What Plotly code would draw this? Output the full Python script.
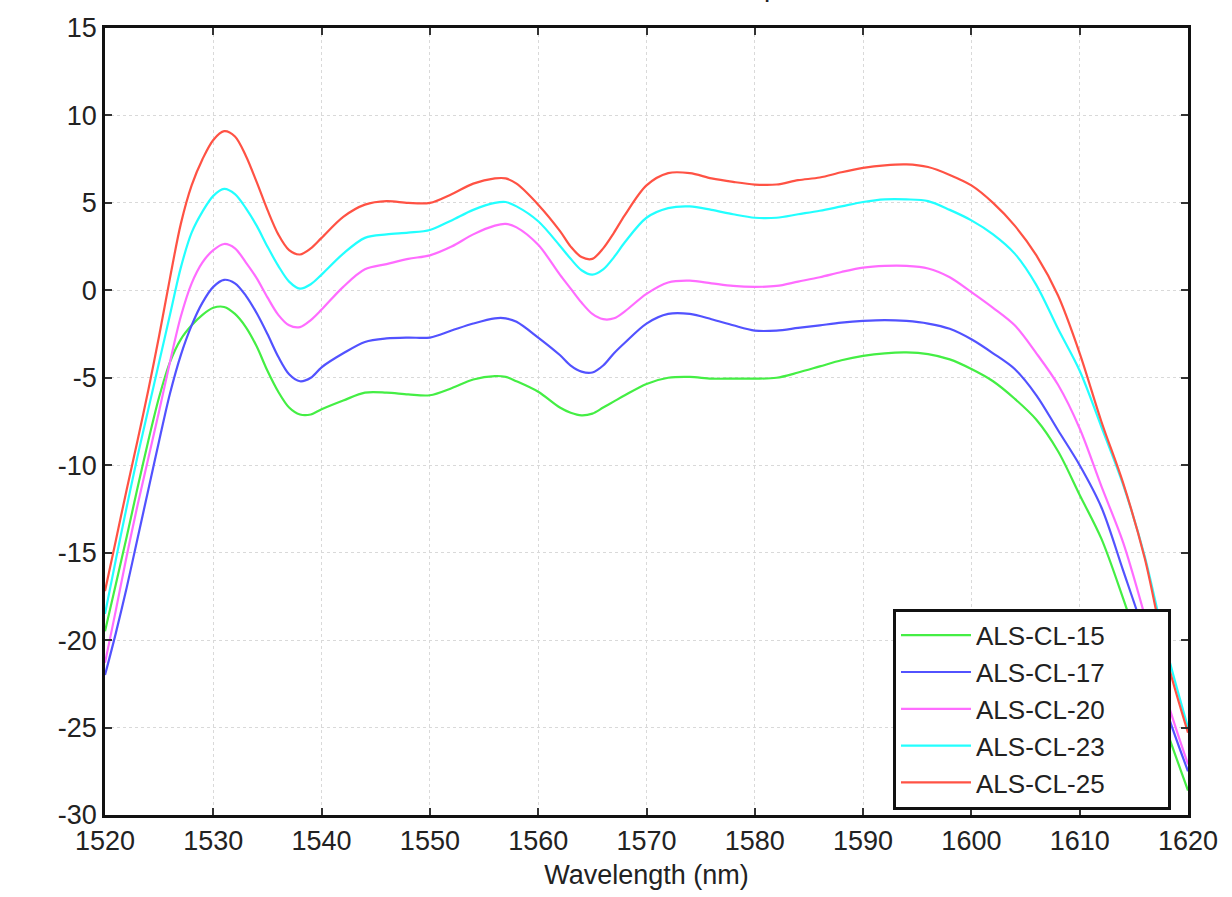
import plotly.graph_objects as go

wavelength = [1520, 1521, 1522, 1523, 1524, 1525, 1526, 1527, 1528, 1529, 1530,
              1531, 1532, 1533, 1534, 1535, 1536, 1537, 1538, 1539, 1540, 1542,
              1544, 1546, 1548, 1550, 1552, 1554, 1556, 1557, 1558, 1560, 1562,
              1563, 1564, 1565, 1566, 1567, 1568, 1570, 1572, 1574, 1576, 1578,
              1580, 1582, 1584, 1586, 1588, 1590, 1592, 1594, 1596, 1598, 1600,
              1602, 1604, 1606, 1608, 1610, 1612, 1614, 1616, 1618, 1620]

als_cl_15 = [-19.5, -16.8, -14.1, -11.3, -8.6, -6.1, -4.1, -2.8, -2.0, -1.4, -1.0,
             -0.95, -1.35, -2.1, -3.2, -4.6, -5.8, -6.7, -7.1, -7.1, -6.8, -6.3,
             -5.85, -5.85, -5.95, -6.0, -5.6, -5.1, -4.9, -4.95, -5.2, -5.8, -6.7,
             -7.0, -7.15, -7.05, -6.7, -6.35, -6.0, -5.35, -5.0, -4.95, -5.05, -5.05,
             -5.05, -5.0, -4.7, -4.35, -4.0, -3.75, -3.6, -3.55, -3.65, -3.95, -4.5,
             -5.2, -6.2, -7.4, -9.2, -11.7, -14.2, -17.6, -21.3, -25.1, -28.6]

als_cl_17 = [-22.0, -19.6, -17.0, -14.2, -11.4, -8.6, -5.9, -3.7, -2.0, -0.7, 0.2,
             0.6, 0.4, -0.3, -1.3, -2.5, -3.8, -4.8, -5.2, -5.0, -4.4, -3.6,
             -2.95, -2.75, -2.7, -2.7, -2.3, -1.9, -1.6, -1.6, -1.8, -2.7, -3.7,
             -4.3, -4.65, -4.7, -4.3, -3.6, -3.0, -1.9, -1.35, -1.35, -1.65, -2.0,
             -2.3, -2.3, -2.15, -2.0, -1.85, -1.75, -1.7, -1.75, -1.9, -2.2, -2.8,
             -3.6, -4.5, -6.0, -8.0, -10.0, -12.4, -16.0, -19.7, -24.0, -27.5]

als_cl_20 = [-21.3, -18.3, -15.2, -12.3, -9.6, -6.9, -4.1, -1.5, 0.4, 1.6, 2.3,
             2.65, 2.4, 1.6, 0.7, -0.4, -1.4, -2.0, -2.1, -1.7, -1.1, 0.2,
             1.2, 1.5, 1.8, 2.0, 2.5, 3.2, 3.7, 3.8, 3.6, 2.6, 0.9,
             0.1, -0.7, -1.35, -1.65, -1.6, -1.2, -0.2, 0.45, 0.55, 0.4, 0.25,
             0.2, 0.25, 0.5, 0.75, 1.05, 1.3, 1.4, 1.4, 1.25, 0.75, -0.1,
             -1.0, -2.0, -3.6, -5.4, -7.9, -11.2, -14.4, -18.6, -23.3, -27.1]

als_cl_23 = [-18.5, -15.4, -12.4, -9.5, -6.8, -4.1, -1.4, 1.3, 3.3, 4.5, 5.4,
             5.8, 5.5, 4.7, 3.7, 2.5, 1.4, 0.5, 0.1, 0.35, 0.9, 2.1,
             3.0, 3.2, 3.3, 3.45, 4.0, 4.6, 5.0, 5.05, 4.8, 3.95, 2.55,
             1.8, 1.15, 0.9, 1.2, 1.9, 2.75, 4.15, 4.7, 4.8, 4.6, 4.35,
             4.15, 4.15, 4.35, 4.55, 4.8, 5.05, 5.2, 5.2, 5.1, 4.6, 4.0,
             3.2, 2.1, 0.3, -2.2, -4.6, -7.8, -11.1, -15.2, -20.5, -25.0]

als_cl_25 = [-17.2, -14.3, -11.4, -8.6, -5.7, -2.6, 0.7, 3.8, 6.0, 7.5, 8.6,
             9.1, 8.8, 7.7, 6.2, 4.6, 3.2, 2.3, 2.05, 2.4, 3.0, 4.2,
             4.9, 5.1, 5.0, 5.0, 5.5, 6.1, 6.4, 6.4, 6.1, 4.9, 3.4,
             2.5, 1.9, 1.8, 2.4, 3.3, 4.3, 6.0, 6.7, 6.7, 6.4, 6.2,
             6.05, 6.05, 6.3, 6.45, 6.75, 7.0, 7.15, 7.2, 7.05, 6.6, 6.0,
             5.0, 3.7, 2.0, -0.3, -3.6, -7.5, -11.0, -15.3, -21.0, -25.3]

series_names = ["ALS-CL-15", "ALS-CL-17", "ALS-CL-20", "ALS-CL-23", "ALS-CL-25"]
series_values = [als_cl_15, als_cl_17, als_cl_20, als_cl_23, als_cl_25]
series_colors = ["#44ee44", "#5252ff", "#ff6cff", "#22ffff", "#ff5244"]

x_tick_vals = [1520, 1530, 1540, 1550, 1560, 1570, 1580, 1590, 1600, 1610, 1620]
x_tick_text = ["1520", "1530", "1540", "1550", "1560", "1570", "1580", "1590", "1600", "1610", "1620"]
y_tick_vals = [-30, -25, -20, -15, -10, -5, 0, 5, 10, 15]
y_tick_text = ["-30", "-25", "-20", "-15", "-10", "-5", "0", "5", "10", "15"]

title_text = "ALS-CL Series ASE Power Spectra"
x_title = "Wavelength (nm)"

FONT = "Liberation Sans, Arial, Helvetica, sans-serif"
LEGEND_PAD = "\u00a0" * 8

fig = go.Figure()
for name, vals, col in zip(series_names, series_values, series_colors):
    fig.add_trace(go.Scatter(
        x=wavelength, y=vals, mode="lines", name=name + LEGEND_PAD,
        line=dict(color=col, width=2.2, shape="spline", smoothing=0.9),
    ))

axis_common = dict(
    showline=True, linecolor="#111111", linewidth=2.5, mirror="allticks",
    ticks="inside", ticklen=7, tickwidth=2, tickcolor="#333333",
    showgrid=True, gridcolor="#d9d9d9", gridwidth=1, griddash="dot",
    zeroline=False,
    tickfont=dict(family=FONT, size=27, color="#222222"),
)

fig.update_layout(
    width=1232, height=897,
    paper_bgcolor="white", plot_bgcolor="white",
    margin=dict(l=105, r=44, t=28, b=79, pad=0),
    xaxis=dict(range=[1520, 1620], tickvals=x_tick_vals, ticktext=x_tick_text,
               title=dict(text=x_title, font=dict(family=FONT, size=27, color="#222222"), standoff=10),
               **axis_common),
    yaxis=dict(range=[-30, 15], tickvals=y_tick_vals, ticktext=y_tick_text,
               **axis_common),
    legend=dict(
        x=0.7276, y=0.262, xanchor="left", yanchor="top",
        bgcolor="white", bordercolor="#111111", borderwidth=3,
        font=dict(family=FONT, size=26, color="#222222"),
        itemwidth=70, tracegroupgap=0,
    ),
    showlegend=True,
    annotations=[dict(
        text=title_text, xref="paper", yref="paper", x=0.478, y=1,
        xanchor="center", yanchor="bottom", yshift=24, showarrow=False,
        font=dict(family=FONT, size=28, color="#222222"),
    )],
)

fig.write_html("out.html", config={"displayModeBar": False},
               post_script="document.body.style.margin='0';")
